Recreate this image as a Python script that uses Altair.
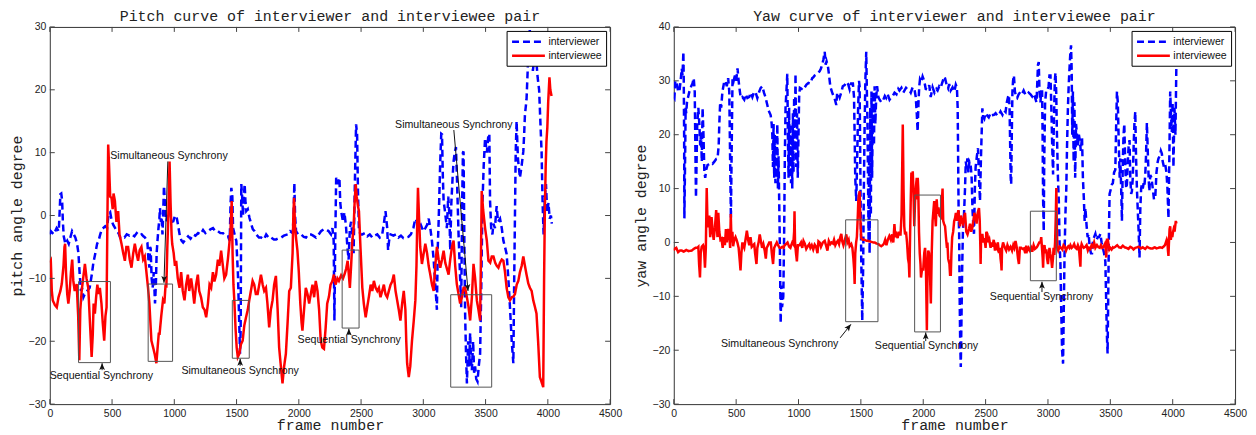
import altair as alt
import pandas as pd

# ---------------- data ----------------
SERIES = ["interviewer", "interviewee"]
COLORS = ["#0000ff", "#ff0000"]
DASHES = [[7, 4], [1, 0]]
X_TICKS = [0, 500, 1000, 1500, 2000, 2500, 3000, 3500, 4000, 4500]
PITCH_Y_TICKS = [-30, -20, -10, 0, 10, 20, 30]
YAW_Y_TICKS = [-30, -20, -10, 0, 10, 20, 30, 40]

# Pitch: interviewer (blue dashed)
pitch_er_frame = [0, 8, 32, 55, 72, 80, 85, 92, 99, 105, 112, 125, 140, 152, 165, 179, 192, 205, 219, 230, 240, 250, 259, 270, 285, 300, 320, 338, 350, 365, 380, 392, 405, 418, 445, 460, 472, 485, 498, 510, 525, 540, 552, 565, 578, 600, 618, 640, 658, 680, 698, 720, 738, 752, 765, 784, 792, 800, 805, 810, 818, 826, 835, 845, 852, 858, 865, 872, 880, 885, 892, 898, 905, 910, 917, 925, 932, 938, 950, 965, 978, 992, 1005, 1018, 1030, 1045, 1058, 1071, 1090, 1111, 1130, 1151, 1170, 1191, 1210, 1231, 1250, 1271, 1290, 1311, 1330, 1351, 1370, 1391, 1410, 1431, 1445, 1452, 1458, 1466, 1472, 1484, 1498, 1511, 1520, 1528, 1533, 1538, 1545, 1552, 1557, 1565, 1572, 1578, 1590, 1604, 1620, 1631, 1645, 1658, 1680, 1698, 1720, 1738, 1760, 1778, 1800, 1818, 1840, 1858, 1880, 1911, 1930, 1951, 1958, 1964, 1970, 1978, 1995, 2018, 2040, 2058, 2075, 2098, 2115, 2138, 2160, 2178, 2200, 2218, 2240, 2258, 2270, 2280, 2286, 2292, 2300, 2312, 2326, 2333, 2340, 2355, 2366, 2375, 2380, 2390, 2400, 2410, 2420, 2430, 2440, 2450, 2460, 2468, 2475, 2483, 2495, 2510, 2530, 2550, 2570, 2590, 2610, 2630, 2650, 2670, 2685, 2696, 2705, 2710, 2717, 2725, 2737, 2760, 2780, 2800, 2820, 2840, 2860, 2880, 2900, 2920, 2936, 2950, 2963, 2980, 3000, 3016, 3030, 3043, 3056, 3069, 3083, 3096, 3109, 3116, 3123, 3135, 3144, 3150, 3157, 3163, 3175, 3189, 3200, 3210, 3216, 3225, 3235, 3243, 3252, 3262, 3270, 3283, 3292, 3304, 3312, 3318, 3323, 3330, 3336, 3343, 3350, 3360, 3368, 3376, 3383, 3390, 3400, 3408, 3416, 3425, 3435, 3445, 3456, 3465, 3475, 3485, 3496, 3510, 3523, 3530, 3536, 3545, 3555, 3563, 3575, 3589, 3600, 3616, 3630, 3643, 3656, 3669, 3683, 3696, 3710, 3723, 3730, 3736, 3742, 3749, 3760, 3776, 3790, 3803, 3810, 3816, 3829, 3840, 3855, 3868, 3880, 3895, 3910, 3918, 3930, 3942, 3950, 3958, 3966, 3976, 3985, 3995, 4005, 4015, 4025, 4032]
pitch_er_value = [-3, -2.5, -3, -2, -2.5, 1, 3.4, 3.5, 2.4, -1, -3.3, -4.5, -4, -4.5, -3.5, -2.5, -3, -3.5, -4.5, -6, -9.3, -12, -11.5, -13, -12.3, -12, -11.5, -9.3, -7.5, -6.1, -4.5, -4, -3, -2.2, -1.7, -2, 0.2, 0.5, -0.9, -1.5, -2, -2.5, -2.8, -3.5, -3.3, -3.5, -3, -3.2, -3, -3.3, -2.8, -3.2, -3, -3.3, -3.5, -4.3, -7, -8.3, -5, -5.2, -10, -11.5, -9, -14, -11, -6, -4, -2.2, -0.5, 1.2, -1, -0.2, -3, 0, 4.7, 2, -0.5, -0.9, 0.5, 0.7, -1, -0.9, 0, -0.2, -1.5, -3.3, -4, -4.3, -3.8, -3.3, -3.7, -3, -3.2, -2.8, -3, -2.3, -2.8, -2.5, -2.2, -2, -2.5, -2.5, -2.8, -2.8, -3.2, -3.3, -4, 2, 4.4, 3, -2, -3, -4, -9.3, -16, -22, -18, 5, 3, 0, 2.4, 5, 2, 0.7, 1, -0.4, -1.5, -2.2, -2.5, -3, -3.5, -3.5, -3.8, -3, -3.6, -3.5, -3.8, -3.8, -3.6, -3.5, -3.2, -3, -2.5, -2.8, 0, 5.2, 0, -2.5, -3, -3, -3.4, -3.5, -3, -3, -3.2, -3.5, -3, -2.5, -2.2, -2.2, -2.5, -3, -2, -4, -16.7, -5, 6, 5, 6, 2, 0.7, -1, 0.5, -1, -2, -5, -7, -2, -1, -3, -6, 5, 14.5, 13, 4, -2.3, -3, -3, -2.8, -3.3, -3, -3.5, -3.2, -3, -3.5, -3, -1, 0.7, -1, -2, -5.5, -4, -3, -3.2, -3, -3.5, -3.2, -3.6, -3.5, -3.4, -3, -2, -0.5, -1, -2, -1.5, -2.5, -2, -1.5, -0.5, -2, -4, -7, -11, -15, -5, -1, 8, 13, 12.9, 6, 2.3, 0.5, -2, 3, 0, -5.5, 2, 6, 8.6, 10, 10.9, 6, -3, -8, -14.6, 2, 10, 10.2, -5, -16, -22, -26.7, -20, -24, -18.7, -23, -24.6, -20, -25, -24, -26, -26.4, -24, -22, -12, 2, 8, 12.3, 10, 12.9, 13, 2.3, -2, -3, -1.3, -2, 1.5, -1, -0.5, -2, -4, -5, -6.1, -10, -14.6, -20, -23.5, -10, 0, 10, 15, 9, 6, 8, 10.2, 13, 16, 18.5, 24, 29.5, 27, 23, 26, 24, 22, 20, 14, 10, 2, -3, 2.8, 5, 0.5, 2, -0.5, 0, -1.3]

# Pitch: interviewee (red solid)
pitch_ee_frame = [0, 8, 16, 24, 40, 56, 70, 85, 96, 110, 118, 123, 130, 140, 149, 160, 170, 180, 189, 200, 216, 228, 237, 245, 256, 268, 282, 295, 309, 320, 336, 345, 352, 362, 372, 382, 392, 402, 415, 425, 437, 447, 456, 462, 469, 476, 485, 496, 505, 512, 523, 535, 549, 560, 576, 590, 603, 615, 629, 642, 656, 670, 683, 696, 709, 722, 736, 750, 763, 776, 789, 800, 808, 816, 830, 842, 856, 866, 875, 882, 895, 909, 920, 930, 936, 944, 952, 962, 970, 978, 983, 995, 1005, 1015, 1028, 1042, 1055, 1068, 1082, 1095, 1109, 1120, 1135, 1149, 1160, 1175, 1189, 1200, 1215, 1229, 1243, 1256, 1270, 1283, 1296, 1310, 1322, 1336, 1350, 1362, 1376, 1390, 1402, 1416, 1430, 1442, 1452, 1461, 1468, 1475, 1482, 1492, 1501, 1510, 1522, 1535, 1549, 1562, 1576, 1590, 1602, 1615, 1629, 1642, 1655, 1669, 1682, 1696, 1710, 1722, 1736, 1748, 1762, 1775, 1789, 1802, 1816, 1830, 1842, 1856, 1869, 1882, 1896, 1910, 1923, 1936, 1950, 1956, 1962, 1970, 1980, 1989, 2000, 2012, 2022, 2029, 2042, 2056, 2070, 2083, 2096, 2110, 2123, 2136, 2150, 2163, 2176, 2189, 2202, 2215, 2228, 2242, 2255, 2268, 2282, 2295, 2310, 2322, 2340, 2355, 2366, 2380, 2392, 2400, 2410, 2420, 2430, 2440, 2448, 2457, 2465, 2475, 2483, 2495, 2510, 2522, 2537, 2550, 2563, 2577, 2590, 2603, 2617, 2630, 2643, 2656, 2670, 2683, 2696, 2710, 2723, 2737, 2750, 2763, 2777, 2790, 2803, 2816, 2830, 2843, 2856, 2863, 2870, 2883, 2895, 2909, 2922, 2936, 2945, 2952, 2957, 2965, 2975, 2989, 3003, 3016, 3030, 3043, 3056, 3070, 3083, 3096, 3109, 3123, 3136, 3150, 3163, 3176, 3190, 3203, 3216, 3230, 3243, 3256, 3269, 3283, 3296, 3310, 3323, 3336, 3350, 3363, 3376, 3390, 3403, 3416, 3430, 3443, 3456, 3462, 3469, 3480, 3496, 3510, 3523, 3537, 3550, 3563, 3577, 3590, 3603, 3616, 3630, 3643, 3656, 3669, 3683, 3696, 3710, 3723, 3736, 3750, 3763, 3776, 3790, 3803, 3816, 3830, 3843, 3856, 3870, 3883, 3896, 3909, 3922, 3936, 3950, 3963, 3970, 3976, 3983, 3989, 3996, 4003, 4013, 4020, 4030]
pitch_ee_value = [-7.5, -7.2, -12, -13.5, -14.2, -14.6, -13, -12, -10.9, -8, -5, -4.5, -9, -12.5, -14, -12, -9, -7, -10.4, -12, -10.9, -16, -23, -15, -12, -10, -7.7, -10, -11.5, -16, -22.5, -19, -14, -15.6, -13, -11, -12.5, -11.5, -14, -17, -19.9, -16, -14.6, -2, 11.3, 8, 3, 2.8, 1, 3.5, 2.3, -1, 0.7, -3, -4.5, -6, -7.2, -5, -5, -7, -8.3, -6, -4.5, -6, -7.2, -5.5, -5, -7, -6.5, -9, -11.5, -14, -17, -19.9, -21, -22, -23.5, -21, -18.8, -18.8, -16, -13.5, -14, -11, -11.5, -5, 0, 8.6, 2, -3, -4.5, -6, -8, -7.2, -10, -11.5, -9, -12, -13.5, -11, -9.4, -12, -10, -12, -14, -11, -9.4, -12, -13, -14.6, -15, -16.2, -14, -11, -11.5, -9, -10.5, -9.4, -7, -8, -5.6, -8, -10, -9.4, -7, -4.5, -2, 2.3, -6, -11, -13.5, -18, -21, -22.5, -22, -20.5, -19.9, -17.5, -16.2, -15, -13.5, -12, -10.4, -11, -12.5, -12.5, -11, -9.4, -11, -12, -11.5, -14, -17.8, -15, -13.5, -11, -9.6, -15, -21, -24, -26.7, -24, -22, -17, -12, -11.5, -6, 0, 2.8, -2, -4, -5.6, -9, -14, -17, -18.3, -15, -11.5, -12.5, -14, -12.5, -11, -13, -10.4, -12, -15, -19.9, -21, -21.2, -18, -14, -12.9, -11, -10.5, -9.4, -11, -10, -10.4, -9.5, -10, -9.4, -8.5, -7.2, -9, -11.5, -8, -4, -2, 2, 5, 3, 1.5, 0.7, -5, -11.5, -14, -16.2, -14.5, -12.9, -11, -12, -10.4, -11.5, -12, -11.5, -13, -12, -11, -12.5, -13, -12, -11, -10.5, -9.4, -12, -13.5, -15, -16.7, -14, -12, -15, -20, -23.5, -25.7, -24, -19.9, -17, -13.5, -8, 0, 4.4, 0, -5, -7.7, -6, -4.5, -6, -8, -9.4, -11, -12, -8, -5, -7, -8.3, -7, -5.6, -7.5, -8.5, -9.4, -7, -5, -4, -8, -10.9, -12.5, -14, -13, -11.5, -11.5, -13, -14.5, -16.7, -13, -7.7, -10, -13.5, -15, -16.7, -8, 3.9, 1, -2, -4, -7.2, -7.5, -6.5, -6.5, -7.5, -8, -8.3, -7.5, -7, -7.2, -9, -11.5, -13, -13.5, -13, -12.9, -12.5, -11, -10.4, -9, -8, -6.5, -8, -9.5, -10.8, -11.5, -12, -13.5, -14.5, -15.6, -20, -25.7, -26.5, -27.3, -10, 0.7, 8, 11.8, 14, 18.1, 22, 20, 19]

# Yaw: interviewer (blue dashed)
yaw_er_frame = [0, 5, 12, 23, 35, 45, 55, 64, 70, 77, 80, 83, 85, 88, 92, 95, 100, 106, 115, 125, 140, 150, 160, 168, 172, 178, 182, 188, 197, 205, 212, 218, 225, 231, 238, 245, 252, 260, 271, 285, 298, 311, 325, 340, 351, 360, 365, 372, 380, 390, 404, 415, 425, 436, 445, 452, 458, 463, 471, 480, 490, 500, 511, 520, 530, 537, 550, 565, 577, 590, 605, 617, 630, 645, 657, 670, 685, 697, 710, 723, 735, 750, 760, 770, 777, 785, 790, 795, 800, 805, 810, 815, 820, 825, 830, 835, 840, 845, 850, 857, 862, 868, 878, 885, 890, 896, 903, 910, 915, 920, 925, 930, 935, 940, 945, 950, 955, 960, 965, 970, 976, 982, 988, 994, 1000, 1005, 1011, 1025, 1040, 1050, 1064, 1080, 1095, 1110, 1117, 1130, 1145, 1160, 1170, 1180, 1190, 1200, 1210, 1218, 1225, 1237, 1245, 1255, 1263, 1275, 1290, 1303, 1310, 1320, 1330, 1345, 1355, 1370, 1385, 1398, 1410, 1422, 1436, 1445, 1450, 1455, 1463, 1470, 1478, 1485, 1490, 1497, 1503, 1508, 1511, 1518, 1524, 1529, 1536, 1543, 1548, 1553, 1558, 1562, 1566, 1570, 1575, 1580, 1585, 1590, 1595, 1600, 1605, 1610, 1616, 1623, 1630, 1640, 1650, 1665, 1680, 1692, 1703, 1715, 1730, 1745, 1756, 1770, 1785, 1800, 1809, 1825, 1840, 1852, 1862, 1875, 1890, 1900, 1915, 1929, 1940, 1948, 1955, 1962, 1968, 1974, 1985, 1995, 2008, 2020, 2035, 2048, 2060, 2075, 2090, 2105, 2115, 2128, 2140, 2150, 2160, 2168, 2175, 2188, 2200, 2208, 2220, 2235, 2250, 2261, 2270, 2276, 2280, 2284, 2288, 2292, 2296, 2301, 2306, 2312, 2318, 2327, 2335, 2341, 2347, 2354, 2362, 2370, 2380, 2388, 2395, 2402, 2407, 2414, 2420, 2430, 2439, 2447, 2455, 2462, 2468, 2474, 2480, 2490, 2500, 2514, 2525, 2540, 2550, 2567, 2580, 2595, 2610, 2620, 2635, 2648, 2660, 2670, 2680, 2687, 2692, 2697, 2701, 2705, 2710, 2715, 2720, 2727, 2735, 2745, 2753, 2765, 2780, 2793, 2805, 2820, 2833, 2845, 2860, 2873, 2885, 2895, 2908, 2915, 2920, 2926, 2932, 2940, 2945, 2953, 2957, 2961, 2966, 2970, 2977, 2985, 2993, 3005, 3012, 3020, 3027, 3034, 3041, 3047, 3055, 3060, 3066, 3072, 3080, 3087, 3093, 3100, 3106, 3113, 3121, 3127, 3133, 3140, 3147, 3153, 3160, 3166, 3172, 3179, 3185, 3190, 3195, 3200, 3206, 3212, 3218, 3225, 3233, 3240, 3248, 3255, 3263, 3273, 3280, 3288, 3294, 3300, 3310, 3318, 3326, 3335, 3345, 3353, 3360, 3370, 3380, 3390, 3400, 3410, 3420, 3430, 3440, 3450, 3460, 3466, 3472, 3478, 3484, 3489, 3494, 3505, 3513, 3520, 3530, 3540, 3547, 3553, 3560, 3568, 3575, 3580, 3587, 3593, 3600, 3606, 3612, 3620, 3627, 3633, 3640, 3647, 3654, 3660, 3667, 3673, 3680, 3687, 3693, 3700, 3706, 3713, 3720, 3727, 3734, 3740, 3747, 3753, 3760, 3767, 3773, 3780, 3786, 3793, 3800, 3807, 3813, 3820, 3830, 3840, 3850, 3860, 3870, 3880, 3886, 3895, 3905, 3913, 3920, 3930, 3940, 3950, 3958, 3966, 3972, 3980, 3986, 3993, 3999, 4006, 4014, 4022, 4030]
yaw_er_value = [27, 26.8, 30, 29.8, 28, 28, 30, 32.3, 31, 35.4, 30, 20, 4.5, 10, 18, 25, 24, 26.1, 27, 28, 29, 29.5, 30.5, 28, 20, 8.3, 14, 22, 25, 22, 18, 20, 15, 25, 20, 13.2, 12, 13.5, 14.4, 14.5, 14.8, 14.6, 15, 15.5, 15.6, 18, 22, 26, 25, 28, 29.8, 30, 29, 30.5, 28, 15, 4.5, 15, 30.5, 30, 31, 30, 32.3, 30, 28, 26.8, 27, 26.5, 27.5, 26.8, 27, 27.8, 27, 28, 27.8, 26.8, 28, 28.7, 29, 27.8, 27, 25.5, 24.5, 24, 23.6, 22, 20, 14, 22, 12, 20, 11, 18, 13, 22, 10, 16, 8, 0, -15, -8, -12, -10, 2, 15, 25, 28, 31.3, 20, 12, 25, 14, 22, 11, 20, 10, 24, 13, 27, 17, 31.3, 14, 24, 12, 20, 27, 28.7, 28.5, 29, 28.8, 29.3, 29.6, 29.5, 30.5, 30.6, 31, 31.2, 31.5, 31.8, 32.3, 33, 34, 35.4, 33, 33.6, 32.5, 31, 29, 28.3, 27.5, 26.7, 25.5, 27.8, 27.5, 26.9, 28, 29, 29.2, 29.8, 29.4, 28.4, 29.5, 29.5, 27, 20, 12, 7.7, 15, 25, 30, 29, 10, -3, -10, -14.5, -5, 10, 20, 30, 35.4, 28, 22, 10, 0, 15, -2, 25, 5, 28, 12, 22, 28, 18, 29, 22, 27, 29, 27, 26.5, 26, 26.5, 27.2, 26.8, 27.5, 26.5, 27, 27.2, 27.8, 27.5, 28.5, 28.2, 28.7, 27.8, 28.3, 28.7, 28.4, 28.2, 27.8, 28.8, 28.5, 27, 24, 20.6, 26, 29, 30.3, 29.8, 30.8, 30, 28.5, 28.4, 29.2, 27, 28.8, 27.8, 28.5, 28.2, 29, 28.7, 29.5, 30.2, 30.8, 30.5, 29.2, 28.6, 29.4, 28.2, 28.8, 28, 29.3, 28.8, 25, 15, 5, 1.6, -10, -18, -23.1, -15, -5, 2, 5.3, 10, 15, 14, 15.6, 13, 15, 14.5, 12, 6, 3, 1.6, 10, 14, 16, 17.5, 12, 7.7, 15, 20, 24.9, 23.5, 23, 24, 23.5, 23.2, 24, 23.6, 23.7, 24, 23.5, 23.8, 24.3, 23.7, 24.5, 24.2, 26, 27, 27.4, 25, 18, 12, 10.8, 20, 28, 30, 31, 28, 27, 26.8, 27.5, 28, 27.6, 28.2, 27.4, 27.4, 27.8, 27.5, 27.1, 27.6, 27, 26, 30, 33, 33.5, 28, 26, 28, 28, 20, 8, 2.1, 15, 26, 28, 28, 29, 31, 31, 25, 18, 12.6, 22, 30, 31.5, 28, 20, 12, 7.7, 0, -4, -12, -20, -22.5, -12, -2, 5.3, 10, 18, 25, 29, 32, 35, 36.6, 32, 20, 28, 15, 26, 12, 22, 20, 18, 20, 19, 17, 19.6, 12, 8, 4, 6.4, 3, 1, 1.6, -1, -2, -2, 0, 1, 1.6, 0.5, 1, 1, 1.6, 0, -1, -2, -3.5, -10, -17, -20.6, -8, 2, 9, 10, 10.8, 11, 13, 13.5, 22, 28, 26, 18, 12, 15.6, 10, 4, 15, 20, 22, 14, 10, 10.8, 15, 18, 19, 12, 9, 9.5, 12, 18, 22, 24.3, 16, 10, 6, 2, -2.8, 6, 10, 10.8, 10, 11, 10.5, 12.5, 16, 22.2, 17, 12, 9.5, 12.5, 12, 10, 8, 8.3, 13, 15, 15.6, 16, 17, 16.5, 15, 14, 14.5, 13, 10, 4.5, 14, 28, 24, 20.5, 26, 14, 25, 20, 34]

# Yaw: interviewee (red solid)
yaw_ee_frame = [0, 5, 20, 35, 50, 64, 80, 100, 120, 144, 160, 175, 188, 197, 203, 210, 216, 224, 235, 242, 250, 257, 264, 270, 277, 285, 292, 303, 312, 320, 330, 340, 350, 357, 365, 374, 383, 392, 400, 410, 418, 425, 436, 446, 452, 457, 463, 470, 476, 485, 495, 503, 510, 520, 529, 535, 542, 550, 556, 565, 575, 586, 596, 605, 615, 625, 636, 645, 652, 663, 670, 680, 689, 698, 708, 718, 729, 738, 745, 756, 765, 778, 786, 796, 805, 815, 826, 836, 848, 860, 870, 880, 889, 900, 912, 925, 935, 942, 950, 958, 965, 968, 972, 980, 987, 995, 1008, 1020, 1030, 1040, 1050, 1062, 1074, 1086, 1095, 1106, 1118, 1130, 1141, 1152, 1160, 1170, 1180, 1195, 1210, 1220, 1232, 1243, 1255, 1265, 1276, 1285, 1295, 1305, 1315, 1325, 1335, 1343, 1350, 1360, 1372, 1383, 1392, 1402, 1410, 1423, 1432, 1440, 1446, 1450, 1455, 1462, 1468, 1476, 1480, 1486, 1490, 1495, 1500, 1503, 1515, 1530, 1545, 1556, 1570, 1585, 1600, 1610, 1625, 1640, 1650, 1663, 1675, 1685, 1695, 1705, 1716, 1728, 1740, 1750, 1760, 1769, 1776, 1785, 1795, 1803, 1809, 1818, 1826, 1832, 1836, 1842, 1848, 1854, 1862, 1870, 1878, 1885, 1889, 1895, 1900, 1905, 1910, 1916, 1922, 1928, 1935, 1942, 1948, 1952, 1956, 1960, 1966, 1972, 1978, 1982, 1990, 2000, 2008, 2015, 2022, 2029, 2034, 2040, 2047, 2054, 2061, 2068, 2075, 2082, 2088, 2095, 2101, 2108, 2115, 2122, 2130, 2141, 2150, 2155, 2160, 2168, 2175, 2182, 2190, 2194, 2200, 2210, 2215, 2221, 2226, 2232, 2240, 2248, 2255, 2262, 2270, 2276, 2282, 2288, 2295, 2302, 2310, 2318, 2327, 2335, 2345, 2355, 2367, 2375, 2385, 2394, 2402, 2410, 2420, 2428, 2433, 2440, 2447, 2453, 2458, 2460, 2464, 2470, 2474, 2482, 2490, 2500, 2506, 2514, 2522, 2530, 2540, 2548, 2555, 2565, 2575, 2580, 2590, 2598, 2607, 2614, 2620, 2625, 2628, 2632, 2640, 2647, 2655, 2665, 2675, 2688, 2700, 2712, 2722, 2730, 2740, 2750, 2760, 2767, 2775, 2785, 2795, 2807, 2818, 2826, 2835, 2845, 2855, 2865, 2874, 2885, 2895, 2905, 2913, 2920, 2930, 2940, 2946, 2952, 2958, 2961, 2966, 2972, 2980, 2987, 2993, 3000, 3006, 3012, 3018, 3026, 3033, 3040, 3045, 3051, 3057, 3063, 3067, 3071, 3075, 3082, 3087, 3095, 3105, 3115, 3125, 3135, 3145, 3153, 3163, 3172, 3180, 3190, 3200, 3210, 3220, 3230, 3240, 3248, 3255, 3260, 3264, 3270, 3280, 3287, 3300, 3310, 3320, 3330, 3340, 3350, 3360, 3370, 3380, 3393, 3405, 3415, 3425, 3435, 3446, 3456, 3462, 3467, 3473, 3480, 3486, 3492, 3500, 3510, 3520, 3526, 3540, 3555, 3570, 3585, 3600, 3615, 3630, 3645, 3660, 3675, 3686, 3700, 3715, 3730, 3745, 3760, 3766, 3780, 3795, 3810, 3825, 3840, 3855, 3870, 3885, 3900, 3915, 3926, 3938, 3945, 3952, 3958, 3962, 3966, 3970, 3975, 3980, 3985, 3990, 3997, 4003, 4008, 4015, 4020, 4025, 4030]
yaw_ee_value = [-1.5, -1.2, -1, -1.8, -1.5, -1.5, -1.7, -1.4, -1.6, -1.5, -1.2, -1, -1, -0.8, -4, -6.5, -2, -0.8, -0.5, -1, -4.7, -1, 10.1, 4, 2.8, 5, 1, 4.7, 2, 0.5, 2.8, 6, 1, 5.5, 2, 0.5, 0.7, -1, 1, -0.5, 2.5, 0, 2.5, 1, -1, 5.3, 0, 2, -0.7, 0.5, 1, 0.5, 0, -1, -3.4, -5.2, -2, 0, -0.5, -1, 0.5, 2.2, 0.5, -0.5, 1, -0.8, -0.5, -0.3, -2, -4, -1, 0, 1.5, 0.3, -1, -0.3, -1.5, -3, -1, -0.5, 0, 0, -2, -4, -1, -0.5, 0, -0.5, -1, -1, -0.8, -1, -0.5, -0.3, 0, -0.8, -1, -0.5, 0, -0.3, 2, 5.8, 0, -2, -3.5, -0.5, -0.5, 0, -1, 0.3, -0.2, -1.2, -0.7, -0.3, -1, -0.5, -1.3, -0.4, -0.8, -2, 0.2, 0, -0.8, 0, 0.3, -0.5, -1.5, 0.3, -0.3, 0, -0.2, 0.5, -0.5, 0, 0.3, -0.3, 1, 1.6, 0.3, -0.5, 0.5, 1.5, 0, 0.5, -0.7, -0.3, -1, -3, -5, -7.7, -2, 0, 1, 5.3, 8, 9, 9.5, 5, 2, 0.8, 0.5, 0.5, 0.3, 0.3, 0.2, 0.1, 0, 0, -0.2, -0.3, -0.5, -0.7, -0.5, -0.2, 0.5, -0.5, 0.5, 1.2, 0.5, 1.5, 0, 3.4, 1, 1.5, 0.8, 2, 1.5, 1.5, 5, 15, 21.9, 10, 3, 1.5, 2, 0, -3, -4, -6.5, 2, 8, 13, 10, 13.2, 9, 3, 8, 10.5, 12, 8, 12, 10, 2, -2, -4, -6.5, -5, -5, -2, -1, -5, -16.3, -6, -1.5, -2, -6, -11.3, -2, 4, 6, 7.7, 5, 3, 8, 5.3, 6.5, 5, 4.7, 8, 10, 4, 3.4, 3, 1, -1, 0, -3, -4, -6, -6, -2, 1, 2, 4, 4.5, 5.5, 4, 5.3, 6, 4.5, 3, 5, 4, 3.5, 4.7, 5.5, 2, 1.5, 2.5, 3.5, 2, 2.8, 4, 5.5, 4.7, 3.5, 5, 5.8, 6.4, 4, -1, -4, 1, 0.5, 1.6, 0, 0.8, -1, 2, 1.6, 0, 0.5, -1, 0, -0.8, 0.5, -1.5, -0.5, -1, 0, -2, -1, -3, -4, -5.2, -1, 0, -0.5, -1, -1.5, -0.5, -1.3, -0.8, -1.5, -0.5, -1, 0.3, -1, -3, -4, -1, -1, -1.2, -1.1, -2, -0.6, -1.5, -1, -1.5, -1, -1.7, -0.5, -1.2, -1, -0.8, -0.5, 0, 0, 1, -1, -3, -4.7, -1, -0.5, -2, -1.3, -3, -4, -2.5, -1, -2, -3, -4.7, -3, -1, -2.3, 0, 5, 10.1, 3, -1, -1.5, -1.2, -0.8, -1, -1.3, -0.5, -0.8, -1.5, -1, -0.7, -1, -0.5, -1, -0.8, -0.3, -1, -1.2, -0.5, -1, -3, -4.5, -1, -0.3, -0.8, -1, -0.8, -0.5, -1.5, -1, -1.2, -0.5, -0.8, 0, -1, -0.5, -0.9, -1, -0.5, -1, -0.8, -0.3, -1, -2.8, 0.5, 0.5, -0.5, -1.3, -1, -1.3, -0.9, -1, -0.8, -0.5, -0.9, -1, -0.6, -0.9, -1, -1.2, -0.8, -1, -1.3, -1, -0.9, -0.8, -1.1, -0.9, -1, -1.2, -0.8, -1, -1.1, -1.1, -0.9, -1.1, -1, -0.9, -1, -0.8, -0.5, 0, 0.5, 0, -1.5, -2.5, 0, 2.5, 3, 0.5, 1.5, 1, 2, 2.5, 2, 3, 4, 3.5]

# Annotation boxes and labels (frame / degree coordinates)
pitch_box_x1 = [231, 790, 1466, 2348, 3220]
pitch_box_x2 = [487, 986, 1602, 2484, 3549]
pitch_box_y1 = [-10.5, -10.9, -13.5, -5.5, -12.6]
pitch_box_y2 = [-23.4, -23.2, -22.7, -17.9, -27.3]
pitch_note_text = ["Sequential Synchrony", "Simultaneous Synchrony", "Simultaneous Synchrony",
                   "Sequential Synchrony", "Simultaneous Synchrony"]
pitch_note_x = [415, 957, 1529, 2405, 3245]
pitch_note_y = [-25.5, 9.4, -24.7, -19.8, 14.4]
pitch_arrow_x1 = [420, 948, 1529, 2402, 3245]
pitch_arrow_y1 = [-24.6, 8.6, -23.9, -19.0, 13.6]
pitch_arrow_x2 = [420, 917, 1529, 2402, 3359]
pitch_arrow_y2 = [-23.5, -10.7, -22.8, -18.0, -12.0]
pitch_arrow_angle = [0, 181.8, 0, 0, 174.9]

yaw_box_x1 = [1378, 1931, 2859]
yaw_box_x2 = [1637, 2138, 3067]
yaw_box_y1 = [4.2, 8.8, 5.8]
yaw_box_y2 = [-14.7, -16.6, -7.1]
yaw_note_text = ["Simultaneous Synchrony", "Sequential Synchrony", "Sequential Synchrony"]
yaw_note_x = [849, 2026, 2948]
yaw_note_y = [-18.9, -19.3, -10.2]
yaw_arrow_x1 = [1334, 2020, 2952]
yaw_arrow_y1 = [-17.7, -18.3, -9.2]
yaw_arrow_x2 = [1420, 2020, 2952]
yaw_arrow_y2 = [-15.2, -16.7, -7.3]
yaw_arrow_angle = [38.7, 0, 0]

# ---------------- styling ----------------
W_LEFT, W_RIGHT, H = 563, 564, 379
SANS = "Liberation Sans"
MONO = "Liberation Mono"
ARROW = "M0,0L0.55,1.3L0,1.0L-0.55,1.3Z"
LEGEND_LINE = "M-1,0L5,0"


def panel(er_f, er_v, ee_f, ee_v, ydom, yticks, ytitle, title, boxes, notes, width):
    xs = alt.Scale(domain=[0, 4500], nice=False, zero=False)
    ys = alt.Scale(domain=ydom, nice=False, zero=False)
    xa = alt.Axis(values=X_TICKS, title="frame number", labelFlush=False,
                  labelOverlap=False, format="d")
    ya = alt.Axis(values=yticks, title=ytitle, labelFlush=False,
                  labelOverlap=False, format="d")
    cs = alt.Scale(domain=SERIES, range=COLORS)
    ds = alt.Scale(domain=SERIES, range=DASHES)
    leg = alt.Legend(title=None, orient="top-right")

    def X(field):
        return alt.X(field, scale=xs, axis=xa, title="frame number")

    def Y(field):
        return alt.Y(field, scale=ys, axis=ya, title=ytitle)

    def line_layer(f, v, name):
        df = pd.DataFrame({"frame": f, "value": v, "series": name})
        return alt.Chart(df).mark_line(strokeWidth=2.5, clip=True).encode(
            x=X("frame:Q"), y=Y("value:Q"),
            color=alt.Color("series:N", scale=cs, legend=leg),
            strokeDash=alt.StrokeDash("series:N", scale=ds, legend=leg),
        )

    bx1, bx2, by1, by2 = boxes
    box_df = pd.DataFrame({"x1": bx1, "x2": bx2, "y1": by1, "y2": by2})
    box_layer = alt.Chart(box_df).mark_rect(fillOpacity=0, stroke="#555555", strokeWidth=1).encode(
        x=X("x1:Q"), x2="x2:Q", y=Y("y1:Q"), y2="y2:Q")

    txt, tx, ty, ax1, ay1, ax2, ay2, ang = notes
    note_df = pd.DataFrame({"text": txt, "tx": tx, "ty": ty, "ax1": ax1, "ay1": ay1,
                            "ax2": ax2, "ay2": ay2, "angle": ang})
    text_layer = alt.Chart(note_df).mark_text(font=SANS, fontSize=10.7, color="#111111",
                                              baseline="middle", align="center").encode(
        x=X("tx:Q"), y=Y("ty:Q"), text="text:N")
    shaft_layer = alt.Chart(note_df).mark_rule(color="#111111", strokeWidth=1).encode(
        x=X("ax1:Q"), y=Y("ay1:Q"), x2="ax2:Q", y2="ay2:Q")
    head_layer = alt.Chart(note_df).mark_point(shape=ARROW, filled=True, color="#111111",
                                               opacity=1, size=110).encode(
        x=X("ax2:Q"), y=Y("ay2:Q"), angle=alt.Angle("angle:Q", scale=None))

    xt = pd.DataFrame({"t": X_TICKS})
    yt = pd.DataFrame({"t": yticks})
    tick_style = dict(color="#444444", strokeWidth=1)
    xtick_bottom = alt.Chart(xt).mark_rule(**tick_style).encode(
        x=X("t:Q"), y=alt.value(H), y2=alt.value(H - 5))
    xtick_top = alt.Chart(xt).mark_rule(**tick_style).encode(
        x=X("t:Q"), y=alt.value(0), y2=alt.value(5))
    ytick_left = alt.Chart(yt).mark_rule(**tick_style).encode(
        y=Y("t:Q"), x=alt.value(0), x2=alt.value(5))
    ytick_right = alt.Chart(yt).mark_rule(**tick_style).encode(
        y=Y("t:Q"), x=alt.value(width - 5), x2=alt.value(width))

    return alt.layer(
        line_layer(er_f, er_v, "interviewer"),
        line_layer(ee_f, ee_v, "interviewee"),
        box_layer, shaft_layer, head_layer, text_layer,
        xtick_bottom, xtick_top, ytick_left, ytick_right,
    ).properties(
        width=width, height=H,
        title=alt.TitleParams(title, font=MONO, fontSize=15, fontWeight="normal",
                              color="#222222", offset=-2.5, frame="group"),
    )


left = panel(pitch_er_frame, pitch_er_value, pitch_ee_frame, pitch_ee_value,
             [-30, 30], PITCH_Y_TICKS, "pitch angle degree",
             "Pitch curve of interviewer and interviewee pair",
             (pitch_box_x1, pitch_box_x2, pitch_box_y1, pitch_box_y2),
             (pitch_note_text, pitch_note_x, pitch_note_y, pitch_arrow_x1, pitch_arrow_y1,
              pitch_arrow_x2, pitch_arrow_y2, pitch_arrow_angle), W_LEFT)
right = panel(yaw_er_frame, yaw_er_value, yaw_ee_frame, yaw_ee_value,
              [-30, 40], YAW_Y_TICKS, "yaw angle degree",
              "Yaw curve of interviewer and interviewee pair",
              (yaw_box_x1, yaw_box_x2, yaw_box_y1, yaw_box_y2),
              (yaw_note_text, yaw_note_x, yaw_note_y, yaw_arrow_x1, yaw_arrow_y1,
               yaw_arrow_x2, yaw_arrow_y2, yaw_arrow_angle), W_RIGHT)

chart = alt.hconcat(left, right, spacing=9).resolve_scale(
    x="independent", y="independent", color="independent", strokeDash="independent"
).resolve_legend(color="independent", strokeDash="independent").properties(
    padding={"left": 0, "top": 0, "right": 0, "bottom": 0}
).configure_view(
    stroke="#333333", strokeWidth=1
).configure_axis(
    labelFont=SANS, labelFontSize=10.5, labelColor="#222222",
    titleFont=MONO, titleFontSize=15, titleFontWeight="normal", titleColor="#222222",
    grid=False, domain=False, ticks=False, labelPadding=4,
).configure_axisX(titlePadding=-1).configure_axisY(titlePadding=4).configure_legend(
    strokeColor="#000000", fillColor="#ffffff", padding=4, offset=4,
    labelFont=SANS, labelFontSize=10.6, labelColor="#111111",
    symbolType=LEGEND_LINE, symbolSize=121, symbolStrokeWidth=2.5, rowPadding=1, labelOffset=24,
)

chart.save("out.html", embed_options={"renderer": "svg", "actions": False})
